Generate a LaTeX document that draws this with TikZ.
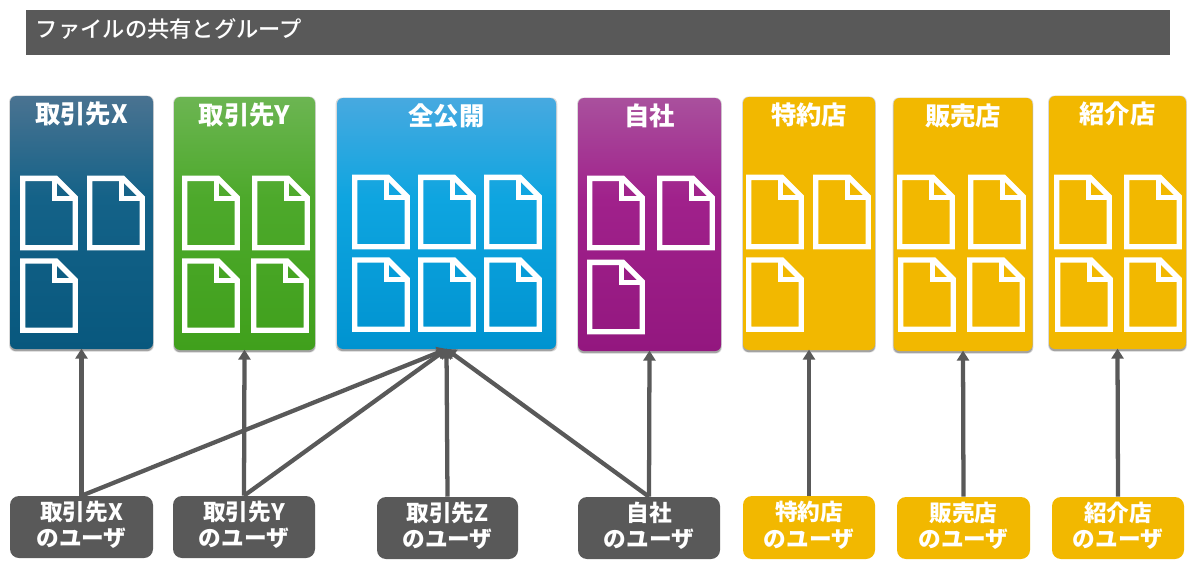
\documentclass[tikz,border=0pt]{standalone}
\usepackage{fontspec}
\setmainfont{Noto Sans CJK JP}
\newfontfamily\headfont{Noto Sans CJK JP Medium}
\usetikzlibrary{positioning,shadows,arrows.meta}
\definecolor{darkgrey}{HTML}{595959}
\definecolor{gold}{HTML}{F2B800}
\definecolor{teal1}{HTML}{4A7391}\definecolor{teal2}{HTML}{146288}\definecolor{teal3}{HTML}{08587E}
\definecolor{leaf1}{HTML}{6CB552}\definecolor{leaf2}{HTML}{4DA92B}\definecolor{leaf3}{HTML}{40A01C}
\definecolor{sky1}{HTML}{47A9E0}\definecolor{sky2}{HTML}{0EA5E0}\definecolor{sky3}{HTML}{0093D0}
\definecolor{plum1}{HTML}{A9509D}\definecolor{plum2}{HTML}{A0218B}\definecolor{plum3}{HTML}{93177F}
\newcommand{\panelfade}[4]{\pgfdeclareverticalshading{#1}{100bp}{color(0bp)=(#4); color(25bp)=(#4); color(55bp)=(#3); color(75bp)=(#2); color(100bp)=(#2)}}
\panelfade{tealfade}{teal1}{teal2}{teal3}
\panelfade{leaffade}{leaf1}{leaf2}{leaf3}
\panelfade{skyfade}{sky1}{sky2}{sky3}
\panelfade{plumfade}{plum1}{plum2}{plum3}
\tikzset{
  boxsize/.style 2 args={minimum width=#1*0.75pt, minimum height=#2*0.75pt, inner sep=0pt},
  panel/.style={rounded corners=4.5pt,
    general shadow={fill=black, shadow yshift=-0.8pt, shadow scale=1.012, opacity=0.15},
    general shadow={fill=black, shadow yshift=-1.6pt, opacity=0.25}},
  tealpanel/.style={panel, shade, shading=tealfade},
  leafpanel/.style={panel, shade, shading=leaffade},
  skypanel/.style={panel, shade, shading=skyfade},
  plumpanel/.style={panel, shade, shading=plumfade},
  amberpanel/.style={panel, fill=gold},
  paneltitle/.style={text=white, font=\fontsize{19pt}{22pt}\selectfont\bfseries, inner sep=0pt},
  user/.style={rounded corners=6.75pt, fill=#1, text=white, align=center, text depth=5pt,
    font=\fontsize{17pt}{20pt}\selectfont\bfseries},
  link/.style={-{Triangle[length=7.5pt,width=9pt]}, line width=3.2pt, draw=darkgrey, shorten >=-0.5pt},
  pics/fileicon/.style={code={
    \draw[white, line width=4pt, miter limit=10]
      (2.7,2.7) -- (36,2.7) -- (55.3,22) -- (55.3,72) -- (2.7,72) -- cycle;
    \draw[white, line width=4pt] (34.5,2.7) -- (34.5,22.5) -- (55.3,22.5);
  }},
}
\begin{document}
\begin{tikzpicture}[x=0.75pt, y=-0.75pt]
  \useasboundingbox (0,0) rectangle (1196,567);

  % header
  \node[fill=darkgrey, boxsize={1144}{45}] (head) at (598,32.5) {};
  \node[right=7.5pt of head.west, text=white, font=\headfont\fontsize{16.7pt}{18pt}\selectfont, inner sep=0pt, yshift=2.75pt] (headtext) {ファイルの共有とグループ};

  % panels
  \node[tealpanel, boxsize={143}{253}] (px) at (81.5,222.5) {};
  \node[leafpanel, boxsize={141}{253}] (py) at (244.5,223.5) {};
  \node[skypanel, boxsize={219}{251}] (pub) at (446.5,223.5) {};
  \node[plumpanel, boxsize={143}{253}] (own) at (649.5,224.5) {};
  \node[amberpanel, boxsize={132}{253}] (spc) at (809,223.5) {};
  \node[amberpanel, boxsize={139}{253}] (shop) at (963,224.5) {};
  \node[amberpanel, boxsize={137}{253}] (intro) at (1117.5,222.5) {};

  \node[paneltitle, below=4.5pt of px.north] (tx) {取引先X};
  \node[paneltitle, below=4.5pt of py.north] (ty) {取引先Y};
  \node[paneltitle, below=4.5pt of pub.north] (tpub) {全公開};
  \node[paneltitle, below=4.5pt of own.north] (town) {自社};
  \node[paneltitle, below=4.5pt of spc.north] (tspc) {特約店};
  \node[paneltitle, below=4.5pt of shop.north] (tshop) {販売店};
  \node[paneltitle, below=4.5pt of intro.north] (tintro) {紹介店};

  % files
  \foreach \fx/\fy in {20/175.7, 87/175.7, 20/258.3,
      182/175.7, 252/175.7, 182/258.3, 251/258.3,
      352/174.7, 418/174.7, 484/174.7, 352/257.3, 418/257.3, 484/257.3,
      587/175.7, 657/175.7, 587/259.7,
      746/174.7, 813/174.7, 746/257.3,
      897/174.7, 968/174.7, 898/257.3, 967/257.3,
      1054/174.7, 1124/174.7, 1055/257.3, 1124/257.3}
    \pic at (\fx,\fy) {fileicon};

  % users
  \node[user=darkgrey, boxsize={143}{62}] (ux) at (81.5,527) {取引先X\\のユーザ};
  \node[user=darkgrey, boxsize={142}{62}] (uy) at (244,527) {取引先Y\\のユーザ};
  \node[user=darkgrey, boxsize={141}{62}] (uz) at (447.5,528) {取引先Z\\のユーザ};
  \node[user=darkgrey, boxsize={142}{62}] (uown) at (649,528) {自社\\のユーザ};
  \node[user=gold, boxsize={132}{63}] (uspc) at (809,527.5) {特約店\\のユーザ};
  \node[user=gold, boxsize={133}{62}] (ushop) at (963.5,528) {販売店\\のユーザ};
  \node[user=gold, boxsize={132}{62}] (uintro) at (1118,528) {紹介店\\のユーザ};

  % access
  \draw[link] (ux.north) -- (px.south);
  \draw[link] (uy.north) -- (py.south);
  \draw[link] (ux.north) -- (pub.south);
  \draw[link] (uy.north) -- (pub.south);
  \draw[link] (uz.north) -- (pub.south);
  \draw[link] (uown.north) -- (pub.south);
  \draw[link] (uown.north) -- (own.south);
  \draw[link] (uspc.north) -- (spc.south);
  \draw[link] (ushop.north) -- (shop.south);
  \draw[link] (uintro.north) -- (intro.south);
\end{tikzpicture}
\end{document}
